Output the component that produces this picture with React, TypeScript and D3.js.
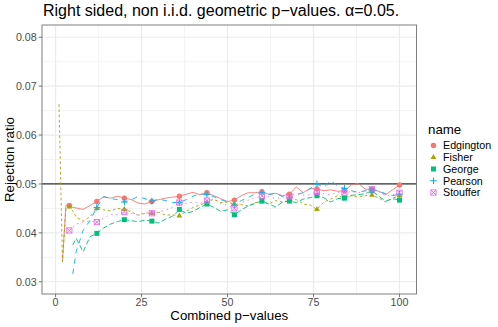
import React from 'react';
import * as d3 from 'd3';

// x grid of the simulation (number of combined p-values)
const xs = [1, 2, 3, 4, 5, ...d3.range(6, 101, 2)];

const names = ['Edgington', 'Fisher', 'George', 'Pearson', 'Stouffer'];
const colors = ['#F8766D', '#A3A500', '#00BF7D', '#00B0F6', '#E76BF3'];
const dashes = ['none', '2.6 2.6', '5.2 2.6', '5.2 5.2', '1.3 3.9'];

const edgington = [null, 0.0340, 0.0456, 0.0456, 0.0452,
  0.0451, 0.0448, 0.0456, 0.0464, 0.0474, 0.0471, 0.0475, 0.0471,
  0.0468, 0.0461, 0.0459, 0.0464, 0.0468, 0.0471, 0.0473, 0.0475,
  0.0479, 0.0483, 0.0478, 0.0482, 0.0476, 0.0470, 0.0464, 0.0467,
  0.0476, 0.0482, 0.0482, 0.0484, 0.0479, 0.0481, 0.0476, 0.0479,
  0.0494, 0.0482, 0.0491, 0.0490, 0.0486, 0.0488, 0.0485, 0.0486,
  0.0498, 0.0501, 0.0490, 0.0488, 0.0485, 0.0478, 0.0488, 0.0498];

const fisher = [0.0663, 0.0341, 0.0450, 0.0453, 0.0445,
  0.0432, 0.0424, 0.0433, 0.0450, 0.0447, 0.0445, 0.0450, 0.0448,
  0.0443, 0.0436, 0.0440, 0.0440, 0.0442, 0.0436, 0.0437, 0.0435,
  0.0444, 0.0452, 0.0457, 0.0462, 0.0469, 0.0462, 0.0463, 0.0459,
  0.0458, 0.0455, 0.0462, 0.0463, 0.0459, 0.0466, 0.0463, 0.0466,
  0.0468, 0.0459, 0.0457, 0.0448, 0.0463, 0.0469, 0.0476, 0.0471,
  0.0476, 0.0473, 0.0476, 0.0477, 0.0471, 0.0463, 0.0471, 0.0476];

const george = [null, null, null, null, 0.0375,
  0.0389, 0.0361, 0.0392, 0.0399, 0.0410, 0.0418, 0.0423, 0.0427,
  0.0425, 0.0423, 0.0426, 0.0424, 0.0420, 0.0428, 0.0434, 0.0448,
  0.0440, 0.0444, 0.0452, 0.0459, 0.0452, 0.0444, 0.0447, 0.0437,
  0.0447, 0.0455, 0.0460, 0.0466, 0.0459, 0.0453, 0.0463, 0.0465,
  0.0462, 0.0469, 0.0472, 0.0476, 0.0472, 0.0463, 0.0470, 0.0471,
  0.0477, 0.0478, 0.0480, 0.0486, 0.0475, 0.0465, 0.0470, 0.0467];

const pearson = [null, null, null, null, 0.0316,
  0.0362, 0.0405, 0.0425, 0.0452, 0.0474, 0.0470, 0.0468, 0.0463,
  0.0468, 0.0474, 0.0470, 0.0465, 0.0469, 0.0466, 0.0462, 0.0462,
  0.0468, 0.0475, 0.0480, 0.0478, 0.0474, 0.0468, 0.0463, 0.0456,
  0.0466, 0.0472, 0.0480, 0.0482, 0.0478, 0.0481, 0.0474, 0.0472,
  0.0478, 0.0482, 0.0490, 0.0500, 0.0493, 0.0507, 0.0496, 0.0491,
  0.0486, 0.0483, 0.0486, 0.0489, 0.0486, 0.0480, 0.0476, 0.0479];

const stouffer = [null, null, null, 0.0405, 0.0412,
  0.0418, 0.0422, 0.0424, 0.0422, 0.0430, 0.0438, 0.0437, 0.0443,
  0.0440, 0.0437, 0.0441, 0.0440, 0.0442, 0.0447, 0.0452, 0.0462,
  0.0460, 0.0463, 0.0460, 0.0466, 0.0468, 0.0460, 0.0456, 0.0450,
  0.0462, 0.0467, 0.0472, 0.0475, 0.0474, 0.0470, 0.0473, 0.0475,
  0.0480, 0.0477, 0.0478, 0.0484, 0.0480, 0.0478, 0.0483, 0.0482,
  0.0484, 0.0482, 0.0486, 0.0489, 0.0484, 0.0476, 0.0478, 0.0482];

const seriesValues = [edgington, fisher, george, pearson, stouffer];

// points are drawn every 8th p-value
const markerXs = [4, 12, 20, 28, 36, 44, 52, 60, 68, 76, 84, 92, 100];

const xTicks = [0, 25, 50, 75, 100];
const xMinor = [12.5, 37.5, 62.5, 87.5];
const yTicks = [0.03, 0.04, 0.05, 0.06, 0.07, 0.08];
const yMinor = [0.035, 0.045, 0.055, 0.065, 0.075];
const alpha = 0.05;

const width = 498;
const height = 327;
const panel = { left: 42, right: 416.5, top: 25, bottom: 294 };
const font = 'Liberation Sans, Arial, Helvetica, sans-serif';

function Shape({ i, cx, cy, color }) {
  if (i === 0) return <circle cx={cx} cy={cy} r={2.7} fill={color} />;
  if (i === 1) {
    const r = 3.3;
    const pts = [[cx, cy - r], [cx + r * 0.87, cy + r * 0.5], [cx - r * 0.87, cy + r * 0.5]];
    return <polygon points={pts.map(p => p.join(',')).join(' ')} fill={color} />;
  }
  if (i === 2) return <rect x={cx - 2.5} y={cy - 2.5} width={5} height={5} fill={color} />;
  if (i === 3) {
    return (
      <g stroke={color} strokeWidth={1}>
        <line x1={cx - 3.3} x2={cx + 3.3} y1={cy} y2={cy} />
        <line x1={cx} x2={cx} y1={cy - 3.3} y2={cy + 3.3} />
      </g>
    );
  }
  return (
    <g stroke={color} strokeWidth={0.9} fill="none">
      <rect x={cx - 2.6} y={cy - 2.6} width={5.2} height={5.2} />
      <line x1={cx - 2.6} x2={cx + 2.6} y1={cy - 2.6} y2={cy + 2.6} />
      <line x1={cx - 2.6} x2={cx + 2.6} y1={cy + 2.6} y2={cy - 2.6} />
    </g>
  );
}

export default function App() {
  const x = d3.scaleLinear().domain([-3.95, 104.95]).range([panel.left, panel.right]);
  const y = d3.scaleLinear().domain([0.0275, 0.0825]).range([panel.bottom, panel.top]);

  const line = d3.line<[number, number | null]>()
    .defined(d => d[1] != null)
    .x(d => x(d[0]))
    .y(d => y(d[1] as number));

  const gridColor = '#EBEBEB';
  const axisText = '#4D4D4D';

  return (
    <svg width={width} height={height} style={{ position: 'absolute', left: 0, top: 0, background: '#fff' }}
      fontFamily={font}>
      <rect x={0} y={0} width={width} height={height} fill="#fff" />
      <text x={43} y={15.5} fontSize={16} fill="#000">
        Right sided, non i.i.d. geometric p−values. α=0.05.
      </text>

      {/* grid */}
      {xMinor.map(v => (
        <line key={'xm' + v} x1={x(v)} x2={x(v)} y1={panel.top} y2={panel.bottom} stroke={gridColor} strokeWidth={0.6} />
      ))}
      {yMinor.map(v => (
        <line key={'ym' + v} x1={panel.left} x2={panel.right} y1={y(v)} y2={y(v)} stroke={gridColor} strokeWidth={0.6} />
      ))}
      {xTicks.map(v => (
        <line key={'xg' + v} x1={x(v)} x2={x(v)} y1={panel.top} y2={panel.bottom} stroke={gridColor} strokeWidth={1.2} />
      ))}
      {yTicks.map(v => (
        <line key={'yg' + v} x1={panel.left} x2={panel.right} y1={y(v)} y2={y(v)} stroke={gridColor} strokeWidth={1.2} />
      ))}

      <g clipPath="url(#clip)">
        <clipPath id="clip">
          <rect x={panel.left} y={panel.top} width={panel.right - panel.left} height={panel.bottom - panel.top} />
        </clipPath>
        <line x1={panel.left} x2={panel.right} y1={y(alpha)} y2={y(alpha)} stroke="#333" strokeWidth={1.2} />
        {seriesValues.map((vals, i) => (
          <path key={names[i]}
            d={line(xs.map((xv, j) => [xv, vals[j]]) as [number, number | null][]) || ''}
            fill="none" stroke={colors[i]} strokeWidth={0.9} strokeDasharray={dashes[i]} />
        ))}
        {seriesValues.map((vals, i) => (
          <g key={'pts' + names[i]}>
            {markerXs.map(mx => {
              const v = vals[xs.indexOf(mx)];
              if (v == null) return null;
              return <Shape key={mx} i={i} cx={x(mx)} cy={y(v)} color={colors[i]} />;
            })}
          </g>
        ))}
      </g>

      <rect x={panel.left} y={panel.top} width={panel.right - panel.left} height={panel.bottom - panel.top}
        fill="none" stroke="#7F7F7F" strokeWidth={1} />

      {/* axes */}
      {xTicks.map(v => (
        <g key={'xt' + v}>
          <line x1={x(v)} x2={x(v)} y1={panel.bottom} y2={panel.bottom + 3.3} stroke="#555" strokeWidth={0.8} />
          <text x={x(v)} y={305.5} textAnchor="middle" fontSize={10.7} fill={axisText}>{v}</text>
        </g>
      ))}
      {yTicks.map(v => (
        <g key={'yt' + v}>
          <line x1={panel.left - 3.3} x2={panel.left} y1={y(v)} y2={y(v)} stroke="#555" strokeWidth={0.8} />
          <text x={36.7} y={y(v) + 3.8} textAnchor="end" fontSize={10.7} fill={axisText}>{d3.format('.2f')(v)}</text>
        </g>
      ))}
      <text x={(panel.left + panel.right) / 2} y={320} textAnchor="middle" fontSize={13.3}>Combined p−values</text>
      <text transform={`translate(13.5,${(panel.top + panel.bottom) / 2}) rotate(-90)`} textAnchor="middle" fontSize={13.3}>
        Rejection ratio
      </text>

      {/* legend */}
      <text x={428} y={134} fontSize={13.3}>name</text>
      {names.map((n, i) => {
        const cy = 145.5 + i * 11.75;
        return (
          <g key={'lg' + n}>
            <Shape i={i} cx={433.5} cy={cy} color={colors[i]} />
            <text x={443} y={cy + 3.8} fontSize={10.7}>{n}</text>
          </g>
        );
      })}
    </svg>
  );
}
